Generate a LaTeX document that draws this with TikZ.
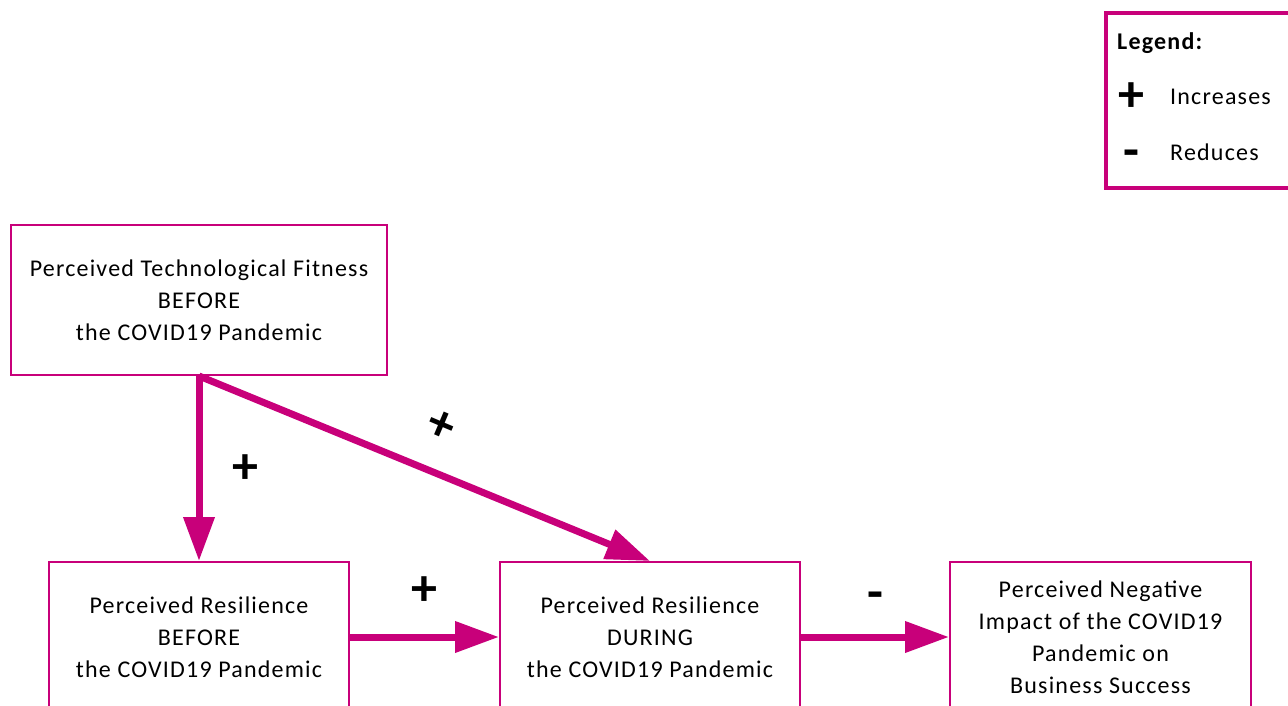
\documentclass[tikz,border=0pt]{standalone}
\usepackage{fontspec}
\setmainfont{Carlito}[LetterSpace=5]
\usetikzlibrary{positioning, arrows.meta}
\definecolor{pinkline}{RGB}{200,0,122}

\begin{document}
\begin{tikzpicture}[x=1pt, y=-1pt,
        box/.style={draw=pinkline, line width=2pt, rectangle, minimum width=300pt, minimum height=150pt, align=center, inner sep=0pt, font=\fontsize{24}{32}\selectfont},
        arr/.style={-{Triangle[length=44pt, width=30pt]}, line width=7pt, draw=pinkline},
        sign/.style={inner sep=0pt, font=\fontsize{52}{52}\selectfont\bfseries},
        legtext/.style={anchor=west, inner sep=0pt, font=\fontsize{24}{28}\selectfont}
    ]
    \clip (0,0) rectangle (1288,706);

    % Legend
    \node[draw=pinkline, line width=4pt, minimum width=204pt, minimum height=175pt, inner sep=0pt] (legend) at (1208,100.5) {};
    \node[legtext, font=\fontsize{24}{28}\selectfont\bfseries] (legtitle) at (1117,43) {Legend:};
    \node[sign] (legplus) at (1131,97) {+};
    \node[legtext] (leginc) at (1170,97) {Increases};
    \node[sign] (legminus) at (1131,159) {-};
    \node[legtext] (legred) at (1170,152) {Reduces};

    % Boxes
    \node[box, minimum width=376pt] (techfit) at (199,300) {Perceived Technological Fitness\\BEFORE\\the COVID19 Pandemic};
    \node[box] (resbefore) at (199,637) {Perceived Resilience\\BEFORE\\the COVID19 Pandemic};
    \node[box] (resduring) at (650,637) {Perceived Resilience\\DURING\\the COVID19 Pandemic};
    \node[box, minimum width=301pt] (impact) at (1100.5,637) {Perceived Negative\\Impact of the COVID19\\Pandemic on\\Business Success};

    % Arrows
    \draw[arr] (techfit.south) -- (resbefore.north);
    \draw[arr] (techfit.south) -- (resduring.north);
    \draw[arr] (resbefore.east) -- (resduring.west);
    \draw[arr] (resduring.east) -- (impact.west);

    % Signs
    \node[sign] (plusa) at (245,469) {+};
    \node[sign, rotate=-23] (plusb) at (441,426) {+};
    \node[sign] (plusc) at (424,591) {+};
    \node[sign] (minusd) at (875,601) {-};

\end{tikzpicture}
\end{document}
